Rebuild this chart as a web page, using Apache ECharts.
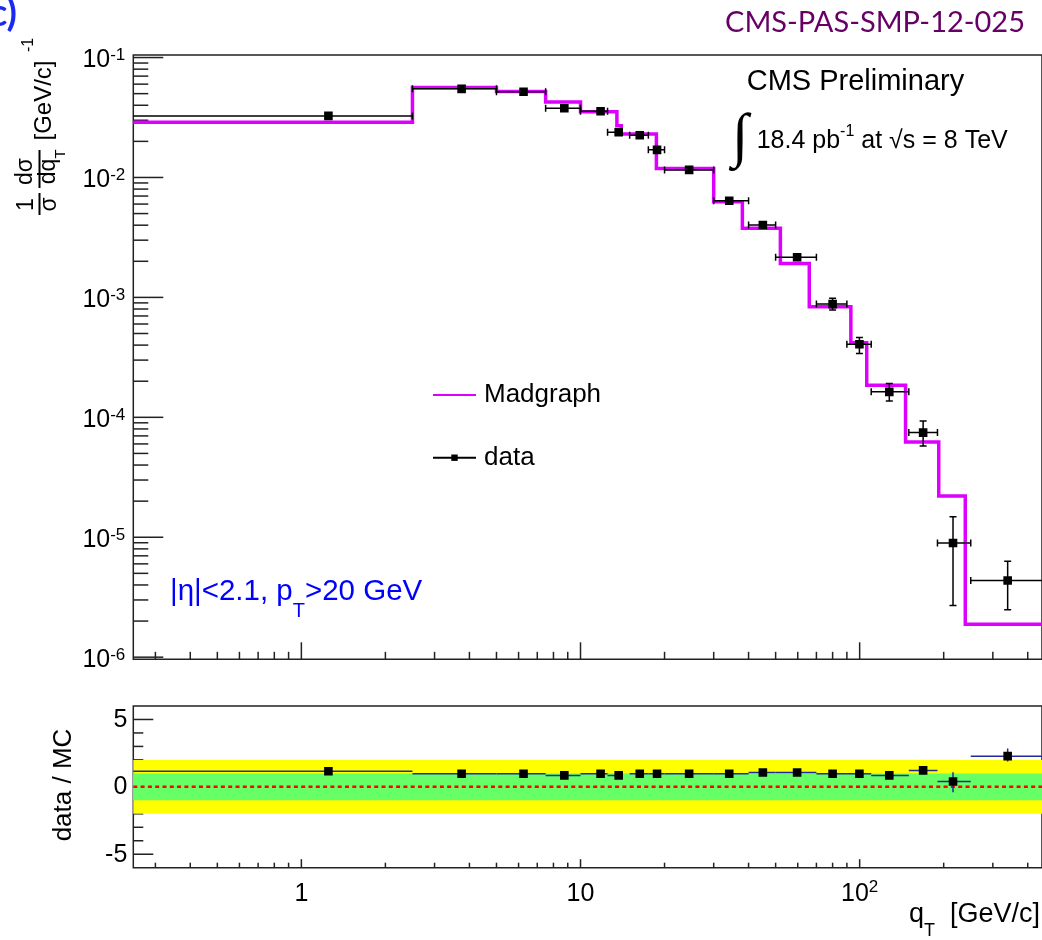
<!DOCTYPE html>
<html>
<head>
<meta charset="utf-8">
<title>W boson qT spectrum, data vs Madgraph</title>
<script src="https://cdn.jsdelivr.net/npm/echarts@6/dist/echarts.min.js"></script>
<style>
  html, body { margin: 0; padding: 0; background: #fff; overflow: hidden; }
  #chart { width: 1042px; height: 940px; }
</style>
</head>
<body>
<div id="chart"></div>
<script>
// Madgraph prediction: bin edges [GeV/c] and normalised cross section per bin
const mgEdges  = [0, 2.5, 5, 7.5, 10, 13.5, 14, 18.7, 30, 38, 52, 66, 93, 106, 146, 192, 239, 600];
const mgValues = [0.0289, 0.0562, 0.052, 0.0426, 0.0354, 0.027, 0.023, 0.0119, 0.00628, 0.00377,
                  0.00192, 0.000834, 0.000418, 0.000185, 6.24e-5, 2.21e-5, 1.88e-6];

// Measured points: position, value, bin range and uncertainty band
const dataX       = [1.25, 3.75, 6.25, 8.75, 11.8, 13.7, 16.3, 18.8, 24.5, 34.1, 45, 59.7, 80, 99.8, 127.7, 168.8, 216, 339];
const dataY       = [0.0326, 0.0548, 0.0518, 0.0378, 0.0357, 0.0238, 0.0225, 0.0170, 0.01156, 0.0064,
                     0.00401, 0.00216, 0.000879, 0.000407, 0.000163, 7.46e-5, 8.95e-6, 4.36e-6];
const dataBinLow  = [0, 2.5, 5, 7.5, 10, 12.5, 15, 17.5, 20, 30, 40, 50, 70, 90, 110, 150, 190, 250];
const dataBinHigh = [2.5, 5, 7.5, 10, 12.5, 14, 17.5, 20, 30, 40, 50, 70, 90, 110, 150, 190, 250, 600];
const dataErrLow  = [0.0320, 0.0540, 0.0511, 0.0372, 0.0350, 0.0233, 0.0220, 0.0165, 0.0113, 0.0061,
                     0.0038, 0.00205, 0.000785, 0.000341, 0.000137, 5.77e-5, 2.7e-6, 2.48e-6];
const dataErrHigh = [0.0332, 0.0556, 0.0525, 0.0384, 0.0364, 0.0243, 0.0230, 0.0175, 0.01182, 0.0067,
                     0.0042, 0.00227, 0.000984, 0.000463, 0.000191, 9.33e-5, 1.48e-5, 6.32e-6];

// data / MC per bin
const ratioY       = [1.16, 0.97, 0.97, 0.85, 0.97, 0.85, 0.97, 0.97, 0.97, 0.97, 1.07, 1.07, 0.97, 0.97, 0.85, 1.22, 0.40, 2.28];
const ratioErrLow  = [1.10, 0.93, 0.93, 0.80, 0.92, 0.80, 0.92, 0.92, 0.93, 0.92, 1.02, 1.01, 0.91, 0.88, 0.75, 1.05, -0.40, 1.89];
const ratioErrHigh = [1.22, 1.01, 1.01, 0.90, 1.02, 0.90, 1.02, 1.02, 1.01, 1.02, 1.12, 1.13, 1.03, 1.06, 0.95, 1.39, 1.09, 2.84];

// Bands of the ratio panel
const bandLimits = [[-2, 2], [-1, 1]];
const bandColors = ['#ffff00', '#66ff66'];
const ratioRefLine = 0;

// Ticks and tick labels
const xMajorTicks  = [1, 10, 100];
const xMajorLabels = ['1', '10', '10{sup|2}'];
const xMinorTicks  = [0.3, 0.4, 0.5, 0.6, 0.7, 0.8, 0.9, 2, 3, 4, 5, 6, 7, 8, 9,
                      20, 30, 40, 50, 60, 70, 80, 90, 200, 300, 400];
const yMainExponents = [-6, -5, -4, -3, -2, -1];
const yMainMantissas = [2, 3, 4, 5, 6, 7, 8, 9];
const yRatioMajor  = [-5, 0, 5];
const yRatioLabels = ['-5', '0', '5'];
const yRatioMinor  = [-4, -3, -2, -1, 1, 2, 3, 4];

const X_MIN = 0.25, X_MAX = 450;
const Y_MIN = 9.6e-7, Y_MAX = 0.105;
const R_MIN = -6, R_MAX = 6;

const FONT = '"Liberation Sans", Arial, Helvetica, sans-serif';
const FRAME = '#222';
const MAGENTA = '#dd00ff';
const HIST_BLUE = '#1f2a9c';

const supRich = { sup: { fontSize: 17, lineHeight: 17, verticalAlign: 'top', fontFamily: FONT, fill: '#000' } };

// Tick lists for both panels
const mainTicks = [];
xMinorTicks.forEach(v => mainTicks.push({ axis: 'x', v: v, len: 7.5 }));
xMajorTicks.forEach(v => mainTicks.push({ axis: 'x', v: v, len: 17 }));
yMainExponents.forEach(e => {
  mainTicks.push({ axis: 'y', v: Math.pow(10, e), len: 30, label: '10{sup|' + e + '}' });
  if (e < -1) yMainMantissas.forEach(m => mainTicks.push({ axis: 'y', v: m * Math.pow(10, e), len: 15 }));
});

const ratioTicks = [];
xMinorTicks.forEach(v => ratioTicks.push({ axis: 'x', v: v, len: 5 }));
xMajorTicks.forEach((v, i) => ratioTicks.push({ axis: 'x', v: v, len: 8.5, label: xMajorLabels[i] }));
yRatioMajor.forEach((v, i) => ratioTicks.push({ axis: 'y', v: v, len: 20, label: yRatioLabels[i] }));
yRatioMinor.forEach(v => ratioTicks.push({ axis: 'y', v: v, len: 10 }));

function tickSeries(gi, ticks, refY, lab) {
  return {
    type: 'custom', xAxisIndex: gi, yAxisIndex: gi, silent: true, clip: false, z: 1,
    data: ticks.map(t => t.axis === 'x' ? [t.v, refY] : [X_MIN, t.v]),
    renderItem: function (params, api) {
      const t = ticks[params.dataIndex];
      const cs = params.coordSys;
      const p = api.coord([api.value(0), api.value(1)]);
      const st = { stroke: FRAME, lineWidth: 1.5 };
      const children = [];
      if (t.axis === 'x') {
        const yb = cs.y + cs.height;
        children.push({ type: 'line', shape: { x1: p[0], y1: yb, x2: p[0], y2: yb - t.len }, style: st });
        if (t.label) {
          children.push({ type: 'text', x: p[0], y: yb + lab.xDY, style: {
            text: t.label, rich: supRich, fontSize: 25, lineHeight: 29, fontFamily: FONT,
            fill: '#000', align: 'center', verticalAlign: 'middle' } });
        }
      } else {
        children.push({ type: 'line', shape: { x1: cs.x, y1: p[1], x2: cs.x + t.len, y2: p[1] }, style: st });
        if (t.label) {
          children.push({ type: 'text', x: cs.x - lab.yDX, y: p[1] + lab.yDY, style: {
            text: t.label, rich: supRich, fontSize: 25, lineHeight: 27, fontFamily: FONT,
            fill: '#000', align: 'right', verticalAlign: 'middle' } });
        }
      }
      return { type: 'group', children: children };
    }
  };
}

// Madgraph histogram as a step outline
const mgLine = [];
mgValues.forEach((v, i) => {
  mgLine.push([Math.max(mgEdges[i], X_MIN), v]);
  mgLine.push([mgEdges[i + 1], v]);
});

function seg(x1, y1, x2, y2, color) {
  return { type: 'line', shape: { x1: x1, y1: y1, x2: x2, y2: y2 }, style: { stroke: color, lineWidth: 1.5 } };
}

const chart = echarts.init(document.getElementById('chart'), null, { renderer: 'canvas' });

const hiddenAxis = {
  axisLine: { show: false }, axisTick: { show: false }, axisLabel: { show: false }, splitLine: { show: false }
};

chart.setOption({
  animation: false,
  backgroundColor: '#fff',
  grid: [
    { left: 133.3, top: 55, width: 912.9, height: 604.3, show: true, borderColor: FRAME, borderWidth: 1.5, backgroundColor: 'transparent' },
    { left: 133.3, top: 706, width: 912.9, height: 161.7, show: true, borderColor: FRAME, borderWidth: 1.5, backgroundColor: 'transparent' }
  ],
  xAxis: [
    Object.assign({ gridIndex: 0, type: 'log', logBase: 10, min: X_MIN, max: X_MAX }, hiddenAxis),
    Object.assign({ gridIndex: 1, type: 'log', logBase: 10, min: X_MIN, max: X_MAX }, hiddenAxis)
  ],
  yAxis: [
    Object.assign({ gridIndex: 0, type: 'log', logBase: 10, min: Y_MIN, max: Y_MAX }, hiddenAxis),
    Object.assign({ gridIndex: 1, type: 'value', min: R_MIN, max: R_MAX }, hiddenAxis)
  ],
  legend: {
    orient: 'vertical', left: 432, top: 382, padding: 0, itemGap: 36.7,
    itemWidth: 43, itemHeight: 8, selectedMode: false,
    data: [
      { name: 'Madgraph', itemStyle: { opacity: 0 } },
      { name: 'data' }
    ],
    textStyle: { fontSize: 26, fontFamily: FONT, color: '#000', padding: [0, 0, 0, 3] }
  },
  series: [
    tickSeries(0, mainTicks, Y_MIN, { xDY: 0, yDX: 8, yDY: 3 }),
    tickSeries(1, ratioTicks, R_MIN, { xDY: 26, yDX: 6, yDY: 0.5 }),
    {
      name: 'Madgraph', type: 'line', xAxisIndex: 0, yAxisIndex: 0, data: mgLine,
      symbol: 'none', z: 3, clip: true,
      itemStyle: { color: MAGENTA },
      lineStyle: { color: MAGENTA, width: 3.5, join: 'miter', cap: 'butt' }
    },
    {
      name: 'data', type: 'line', xAxisIndex: 0, yAxisIndex: 0, data: [],
      symbol: 'rect', symbolSize: 7,
      itemStyle: { color: '#000' }, lineStyle: { color: '#000', width: 1.5 }
    },
    {
      name: 'dataPoints', type: 'custom', xAxisIndex: 0, yAxisIndex: 0, z: 4, clip: true,
      data: dataX.map((x, i) => [x, dataY[i]]),
      renderItem: function (params, api) {
        const i = params.dataIndex;
        const c = api.coord([dataX[i], dataY[i]]);
        const xl = api.coord([Math.max(dataBinLow[i], X_MIN), dataY[i]])[0];
        const xh = api.coord([dataBinHigh[i], dataY[i]])[0];
        const yh = api.coord([dataX[i], dataErrHigh[i]])[1];
        const yl = api.coord([dataX[i], dataErrLow[i]])[1];
        const cap = 3.5, m = 4.3;
        const ch = [
          seg(xl, c[1], xh, c[1], '#000'),
          seg(c[0], yh, c[0], yl, '#000'),
          seg(xh, c[1] - cap, xh, c[1] + cap, '#000'),
          seg(c[0] - cap, yh, c[0] + cap, yh, '#000'),
          seg(c[0] - cap, yl, c[0] + cap, yl, '#000')
        ];
        if (dataBinLow[i] > X_MIN) ch.push(seg(xl, c[1] - cap, xl, c[1] + cap, '#000'));
        ch.push({ type: 'rect', shape: { x: c[0] - m, y: c[1] - m, width: 2 * m, height: 2 * m }, style: { fill: '#000' } });
        return { type: 'group', children: ch };
      }
    },
    {
      name: 'bands', type: 'custom', xAxisIndex: 1, yAxisIndex: 1, z: 2, silent: true,
      data: bandLimits.map(b => [X_MIN, b[0], b[1]]),
      renderItem: function (params, api) {
        const cs = params.coordSys;
        const y1 = api.coord([X_MIN, api.value(1)])[1];
        const y2 = api.coord([X_MIN, api.value(2)])[1];
        return { type: 'rect', shape: { x: cs.x, y: Math.min(y1, y2), width: cs.width, height: Math.abs(y2 - y1) },
                 style: { fill: bandColors[params.dataIndex] } };
      }
    },
    {
      name: 'reference', type: 'custom', xAxisIndex: 1, yAxisIndex: 1, z: 2.5, silent: true,
      data: [[X_MIN, ratioRefLine]],
      renderItem: function (params, api) {
        const cs = params.coordSys;
        const y = api.coord([X_MIN, api.value(1)])[1];
        return { type: 'line', shape: { x1: cs.x, y1: y, x2: cs.x + cs.width, y2: y },
                 style: { stroke: '#ff0000', lineWidth: 2.5, lineDash: [4, 3.3] } };
      }
    },
    {
      name: 'ratio', type: 'custom', xAxisIndex: 1, yAxisIndex: 1, z: 3, clip: true,
      data: dataX.map((x, i) => [x, ratioY[i]]),
      renderItem: function (params, api) {
        const i = params.dataIndex;
        const c = api.coord([dataX[i], ratioY[i]]);
        const xl = api.coord([Math.max(dataBinLow[i], X_MIN), ratioY[i]])[0];
        const xh = api.coord([dataBinHigh[i], ratioY[i]])[0];
        const yh = api.coord([dataX[i], ratioErrHigh[i]])[1];
        const yl = api.coord([dataX[i], ratioErrLow[i]])[1];
        const m = 4.3;
        return { type: 'group', children: [
          seg(xl, c[1], xh, c[1], HIST_BLUE),
          seg(c[0], yh, c[0], yl, HIST_BLUE),
          { type: 'rect', shape: { x: c[0] - m, y: c[1] - m, width: 2 * m, height: 2 * m }, style: { fill: '#000' } }
        ] };
      }
    }
  ],
  graphic: [
    { type: 'text', x: 17, y: 14, style: { text: 'c)', fill: '#1a2af0', fontSize: 38, fontWeight: 'bold', fontFamily: 'Lato, "Open Sans", sans-serif', align: 'right', verticalAlign: 'middle' } },
    { type: 'text', x: 1025, y: 22.5, style: { text: 'CMS-PAS-SMP-12-025', fill: '#660066', fontSize: 29, fontFamily: 'Lato, "Open Sans", sans-serif', align: 'right', verticalAlign: 'middle' } },
    { type: 'text', x: 746.7, y: 81.7, style: { text: 'CMS Preliminary', fill: '#000', fontSize: 29, fontFamily: FONT, align: 'left', verticalAlign: 'middle' } },
    { type: 'text', x: 740, y: 139, style: { text: '∫', fill: '#000', fontSize: 60, fontFamily: '"Liberation Serif", "DejaVu Serif", serif', align: 'center', verticalAlign: 'middle' } },
    { type: 'text', x: 756.7, y: 141, style: {
        text: '18.4 pb{s|-1} at √s = 8 TeV', fill: '#000', fontSize: 25, lineHeight: 34, fontFamily: FONT,
        align: 'left', verticalAlign: 'middle',
        rich: { s: { fontSize: 16, lineHeight: 16, verticalAlign: 'top', fontFamily: FONT, fill: '#000' } } } },
    { type: 'text', x: 170, y: 591.7, style: {
        text: '|η|<2.1, p{t|T}>20 GeV', fill: '#0000ff', fontSize: 29.5, lineHeight: 59, fontFamily: FONT,
        align: 'left', verticalAlign: 'middle',
        rich: { t: { fontSize: 20, lineHeight: 20, verticalAlign: 'bottom', fontFamily: FONT, fill: '#0000ff' } } } },
    { type: 'text', x: 1040, y: 915, style: {
        text: 'q{t|T}  [GeV/c]', fill: '#000', fontSize: 27, lineHeight: 50, fontFamily: FONT,
        align: 'right', verticalAlign: 'middle',
        rich: { t: { fontSize: 18, lineHeight: 18, verticalAlign: 'bottom', fontFamily: FONT, fill: '#000' } } } },
    { type: 'text', x: 64, y: 785, rotation: Math.PI / 2, style: { text: 'data / MC', fill: '#000', fontSize: 26, fontFamily: FONT, align: 'center', verticalAlign: 'middle' } },
    // y-axis title: 1/σ dσ/dq_T [GeV/c]^-1, written bottom to top
    { type: 'group', x: 0, y: 215, rotation: Math.PI / 2, children: [
      { type: 'text', x: 10.5, y: 27, style: { text: '1', fill: '#000', fontSize: 23, fontFamily: FONT, align: 'center', verticalAlign: 'middle' } },
      { type: 'text', x: 10.5, y: 50, style: { text: 'σ', fill: '#000', fontSize: 23, fontFamily: FONT, align: 'center', verticalAlign: 'middle' } },
      { type: 'line', shape: { x1: 0, y1: 39.5, x2: 22, y2: 39.5 }, style: { stroke: '#000', lineWidth: 2 } },
      { type: 'text', x: 43.5, y: 26, style: { text: 'dσ', fill: '#000', fontSize: 23, fontFamily: FONT, align: 'center', verticalAlign: 'middle' } },
      { type: 'text', x: 43.5, y: 49, style: { text: 'dq', fill: '#000', fontSize: 23, fontFamily: FONT, align: 'center', verticalAlign: 'middle' } },
      { type: 'text', x: 61, y: 61, style: { text: 'T', fill: '#000', fontSize: 15, fontFamily: FONT, align: 'center', verticalAlign: 'middle' } },
      { type: 'line', shape: { x1: 27, y1: 39.5, x2: 65, y2: 39.5 }, style: { stroke: '#000', lineWidth: 2 } },
      { type: 'text', x: 114.5, y: 44, style: { text: '[GeV/c]', fill: '#000', fontSize: 24, fontFamily: FONT, align: 'center', verticalAlign: 'middle' } },
      { type: 'text', x: 170, y: 29, style: { text: '-1', fill: '#000', fontSize: 16, fontFamily: FONT, align: 'center', verticalAlign: 'middle' } }
    ] }
  ]
});
</script>
</body>
</html>
